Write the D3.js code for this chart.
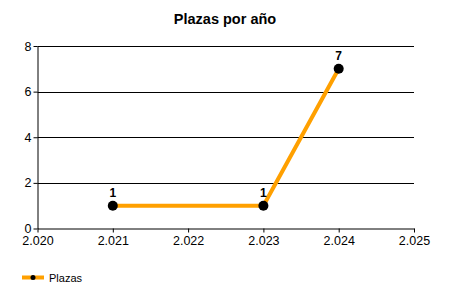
<!DOCTYPE html>
<html><head><meta charset="utf-8">
<script src="https://cdn.jsdelivr.net/npm/d3@7"></script>
<style>body{margin:0;background:#fff}svg{display:block;font-family:"Liberation Sans",Arial,sans-serif}</style>
</head><body>
<script>
const years = [2021, 2023, 2024];
const plazas = [1, 1, 7];
const xTicks = [2020, 2021, 2022, 2023, 2024, 2025];
const yTicks = [0, 2, 4, 6, 8];
const title = "Plazas por año";
const seriesName = "Plazas";

const W = 450, H = 300;
const svg = d3.select("body").append("svg").attr("width", W).attr("height", H);
const es = d3.formatLocale({decimal: ",", thousands: ".", grouping: [3], currency: ["", "€"]});
const fmt = es.format(",.0f");

const x = d3.scaleLinear().domain([2020, 2025]).range([37.5, 414]);
const y = d3.scaleLinear().domain([0, 8]).range([228.5, 46]);

svg.append("text").attr("x", 225).attr("y", 24).attr("text-anchor", "middle")
  .attr("font-size", 14.5).attr("font-weight", "bold").text(title);

// gridlines
svg.append("g").selectAll("line").data(yTicks.filter(d => d > 0)).join("line")
  .attr("x1", x(2020)).attr("x2", x(2025)).attr("y1", d => Math.round(y(d)) + 0.5).attr("y2", d => Math.round(y(d)) + 0.5)
  .attr("stroke", "#000").attr("stroke-width", 1);

const yAxis = svg.append("g").attr("transform", `translate(${x(2020)},0)`)
  .call(d3.axisLeft(y).tickValues(yTicks).tickSize(4).tickSizeOuter(0).tickPadding(2));
yAxis.selectAll("text").attr("font-size", 12.5).attr("fill", "#000").style("font-family", "Liberation Sans, Arial");
yAxis.selectAll("line,path").attr("stroke", "#000");

const xAxis = svg.append("g").attr("transform", `translate(0,${y(0)})`)
  .call(d3.axisBottom(x).tickValues(xTicks).tickFormat(fmt).tickSize(4).tickSizeOuter(0).tickPadding(4));
xAxis.selectAll("text").attr("font-size", 12.5).attr("fill", "#000").style("font-family", "Liberation Sans, Arial");
xAxis.selectAll("line,path").attr("stroke", "#000");

const pts = years.map((d, i) => ({x: d, y: plazas[i]}));
svg.append("path").datum(pts)
  .attr("d", d3.line().x(d => x(d.x)).y(d => y(d.y)))
  .attr("fill", "none").attr("stroke", "#FFA000").attr("stroke-width", 4).attr("stroke-linejoin", "round");
svg.append("g").selectAll("circle").data(pts).join("circle")
  .attr("cx", d => x(d.x)).attr("cy", d => y(d.y)).attr("r", 5).attr("fill", "#000");
svg.append("g").selectAll("text").data(pts).join("text")
  .attr("x", d => x(d.x)).attr("y", d => y(d.y) - 9).attr("text-anchor", "middle")
  .attr("font-size", 12).attr("font-weight", "bold").text(d => d.y);

// legend
const lg = svg.append("g");
lg.append("line").attr("x1", 22).attr("x2", 44).attr("y1", 277.5).attr("y2", 277.5).attr("stroke", "#FFA000").attr("stroke-width", 4);
lg.append("circle").attr("cx", 33).attr("cy", 277.5).attr("r", 2.5).attr("fill", "#000");
lg.append("text").attr("x", 49).attr("y", 282).attr("font-size", 11).text(seriesName);
</script>
</body></html>
